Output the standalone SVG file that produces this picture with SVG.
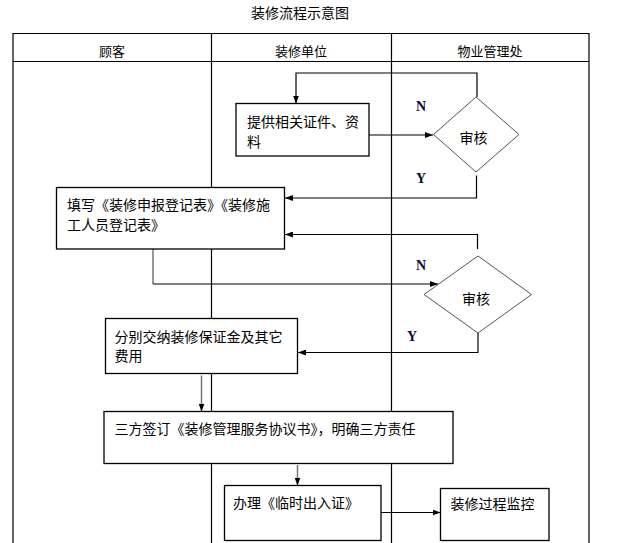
<svg xmlns="http://www.w3.org/2000/svg" width="619" height="543" viewBox="0 0 619 543">
<defs>
<marker id="ah" markerWidth="8" markerHeight="6" refX="8" refY="3" orient="auto" markerUnits="userSpaceOnUse">
<path d="M0,0 L8,3 L0,6 Z" fill="#000"/>
</marker>
<style>
.t{font-family:"Liberation Sans","Noto Sans CJK SC",sans-serif;font-size:14px;fill:#000}
.h{font-family:"Liberation Sans","Noto Sans CJK SC",sans-serif;font-size:13px;fill:#000}
.yn{font-family:"Liberation Serif",serif;font-size:14px;font-weight:bold;fill:#0a0a30}
.box{fill:#fff;stroke:#000;stroke-width:1.3}
.dia{fill:#fff;stroke:#555;stroke-width:1}
.ln{fill:none;stroke:#000;stroke-width:1.2}
.gl{fill:none;stroke:#777;stroke-width:1.5}
.grid{fill:none;stroke:#000;stroke-width:1.2}
</style>
</defs>
<rect width="619" height="543" fill="#fff"/>
<text class="t" x="300" y="18" text-anchor="middle">装修流程示意图</text>
<g id="table">
<path class="grid" d="M13,543 V33.5 H589 V543 M13,61.5 H589 M211.5,33.5 V543 M391.5,33.5 V543"/>
<text class="h" x="112" y="56" text-anchor="middle">顾客</text>
<text class="h" x="301" y="56" text-anchor="middle">装修单位</text>
<text class="h" x="490" y="56" text-anchor="middle">物业管理处</text>
</g>
<g id="connectors">
<path class="ln" d="M477,97 V73 H296 V103.5" marker-end="url(#ah)"/>
<path class="ln" d="M369,135 H433" marker-end="url(#ah)"/>
<path class="ln" d="M476.5,175.5 V198 H285" marker-end="url(#ah)"/>
<path class="ln" d="M477.5,249 V234.5 H285" marker-end="url(#ah)"/>
<path class="gl" d="M153,249 V284"/>
<path class="ln" d="M153,284 H438" marker-end="url(#ah)"/>
<path class="ln" d="M478,333 V352.5 H298" marker-end="url(#ah)"/>
<path class="gl" d="M201.5,375.5 V411.5" marker-end="url(#ah)"/>
<path class="gl" d="M297.5,465 V485.5" marker-end="url(#ah)"/>
<path class="ln" d="M381,512.5 H440.5" marker-end="url(#ah)"/>
<text class="yn" x="421" y="111" text-anchor="middle">N</text>
<text class="yn" x="421" y="183" text-anchor="middle">Y</text>
<text class="yn" x="421" y="270" text-anchor="middle">N</text>
<text class="yn" x="412" y="341" text-anchor="middle">Y</text>
</g>
<g id="n1">
<rect class="box" x="236" y="103.5" width="133" height="52.5"/>
<text class="t" x="247" y="127">提供相关证件、资</text>
<text class="t" x="247" y="146.5">料</text>
</g>
<g id="d1">
<path class="dia" d="M476,97 L519,134.5 L476,172 L433.5,134.5 Z"/>
<text class="t" x="473.5" y="143" text-anchor="middle">审核</text>
</g>
<g id="n2">
<rect class="box" x="56.5" y="187.5" width="228" height="61.5"/>
<text class="t" x="67" y="210">填写《装修申报登记表》《装修施</text>
<text class="t" x="67" y="230">工人员登记表》</text>
</g>
<g id="d2">
<path class="dia" d="M478,256 L531.5,294.5 L478,333 L424,294.5 Z"/>
<text class="t" x="476" y="304" text-anchor="middle">审核</text>
</g>
<g id="n3">
<rect class="box" x="105.5" y="318.5" width="192" height="55"/>
<text class="t" x="114.5" y="341.5">分别交纳装修保证金及其它</text>
<text class="t" x="114.5" y="361">费用</text>
</g>
<g id="n4">
<rect class="box" x="104" y="411.5" width="349" height="52"/>
<text class="t" x="114.5" y="434">三方签订《装修管理服务协议书》，明确三方责任</text>
</g>
<g id="n5">
<rect class="box" x="224.5" y="485.5" width="156.5" height="55"/>
<text class="t" x="233" y="508">办理《临时出入证》</text>
</g>
<g id="n6">
<rect class="box" x="440.5" y="488.5" width="108.5" height="52"/>
<text class="t" x="450.5" y="509">装修过程监控</text>
</g>
</svg>
